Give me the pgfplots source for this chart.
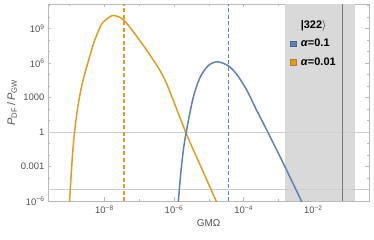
\documentclass[border=0pt]{standalone}
\usepackage{pgfplots}
\pgfplotsset{compat=1.18}
\usepackage{fontspec}
\setmainfont{Liberation Sans}
\definecolor{mblue}{RGB}{94,129,181}
\definecolor{morange}{RGB}{225,156,36}
\definecolor{ticklab}{RGB}{80,80,80}
\definecolor{frame}{RGB}{185,185,185}
\definecolor{shade}{RGB}{217,217,217}
\definecolor{gridc}{RGB}{205,205,205}
\definecolor{darkl}{RGB}{120,120,120}
\begin{document}
\begin{tikzpicture}
\begin{axis}[
  scale only axis, width=321bp, height=197bp,
  xmin=-9.62, xmax=-0.40, ymin=-6, ymax=11.15,
  axis line style={frame, line width=0.6bp},
  tick style={frame, line width=0.5bp},
  major tick length=3.5bp, minor tick length=2bp,
  xtick={-8,-6,-4,-2},
  xticklabels={10\textsuperscript{−8},10\textsuperscript{−6},10\textsuperscript{−4},10\textsuperscript{−2}},
  minor xtick={-9,-7,-5,-3,-1},
  ytick={-6,-3,0,3,6,9},
  yticklabels={10\textsuperscript{−6},0.001,1,1000,10\textsuperscript{6},10\textsuperscript{9}},
  minor ytick={-5,-4,-2,-1,1,2,4,5,7,8,10,11},
  tick label style={font=\fontsize{9.5}{11}\selectfont, text=ticklab},
  xticklabel style={yshift=-1bp},
  xlabel={GMΩ}, xlabel style={font=\fontsize{10}{11}\selectfont, text=ticklab, yshift=1bp},
  ylabel={\textit{P}\textsubscript{DF}\,/\,\textit{P}\textsubscript{GW}},
  ylabel style={font=\fontsize{11}{12}\selectfont, text=ticklab, yshift=-3bp},
  legend style={draw=none, fill=none, at={(0.733,0.935)}, anchor=north west,
    font=\fontsize{11}{13}\selectfont\bfseries, row sep=5.5bp, inner sep=1bp,
    /tikz/every odd column/.append style={column sep=3bp}},
  legend cell align=left,
  clip=true,
]
% shaded region
\addplot[fill=shade, draw=none, forget plot] coordinates {(-2.8,-6) (-2.8,11.15) (-0.8,11.15) (-0.8,-6)} -- cycle;
% grid lines
\addplot[gridc, line width=0.8bp, forget plot] coordinates {(-9.62,0) (-0.4,0)};
\addplot[gridc, line width=0.8bp, forget plot] coordinates {(-9.62,-5) (-0.4,-5)};
% dark vertical line
\addplot[darkl, line width=0.9bp, forget plot] coordinates {(-1.15,-6) (-1.15,11.15)};
% orange curve (alpha=0.01)
\addplot[morange, line width=1.5bp, smooth, forget plot] coordinates {
(-9.01,-6.5) (-8.927,-2.43) (-8.856,0.03) (-8.755,2.35) (-8.626,4.36) (-8.468,6.10)
(-8.296,7.84) (-8.095,9.32) (-7.95,9.80) (-7.78,10.14) (-7.61,10.06) (-7.44,9.75)
(-7.12,8.53) (-6.69,6.70) (-6.26,4.53) (-5.67,0.03) (-5.25,-2.87) (-4.79,-6) (-4.746,-6.3)};
% blue curve (alpha=0.1)
\addplot[mblue, line width=1.5bp, smooth, forget plot] coordinates {
(-5.89,-6.5) (-5.877,-6.04) (-5.798,-3.30) (-5.712,-1.13) (-5.612,0.61) (-5.445,3.05)
(-5.253,4.75) (-5.014,5.79) (-4.756,6.12) (-4.447,5.78) (-4.197,5.02) (-3.912,3.66)
(-3.645,2.01) (-3.337,0.18) (-2.955,-2.14) (-2.361,-5.87) (-2.29,-6.3)};
% dashed lines
\addplot[color=morange, line width=1.5bp, dash pattern=on 4bp off 2.5bp, forget plot] coordinates {(-7.44,-6) (-7.44,11.15)};
\addplot[color=mblue, line width=1.5bp, dash pattern=on 4bp off 2.5bp, forget plot] coordinates {(-4.44,-6) (-4.44,11.15)};
% legend
\addlegendimage{empty legend}
\addlegendentry{|322$\rangle$}
\addlegendimage{only marks, mark=square*, mark size=2.8bp, mblue, mark options={draw=mblue!80!black, line width=0.3bp}}
\addlegendentry{\textit{α}=0.1}
\addlegendimage{only marks, mark=square*, mark size=2.8bp, morange, mark options={draw=morange!80!black, line width=0.3bp}}
\addlegendentry{\textit{α}=0.01}
\end{axis}
\pgfresetboundingbox
\path ([xshift=-48bp,yshift=-39bp]current axis.south west) rectangle ([xshift=5bp,yshift=4bp]current axis.north east);
\end{tikzpicture}
\end{document}
